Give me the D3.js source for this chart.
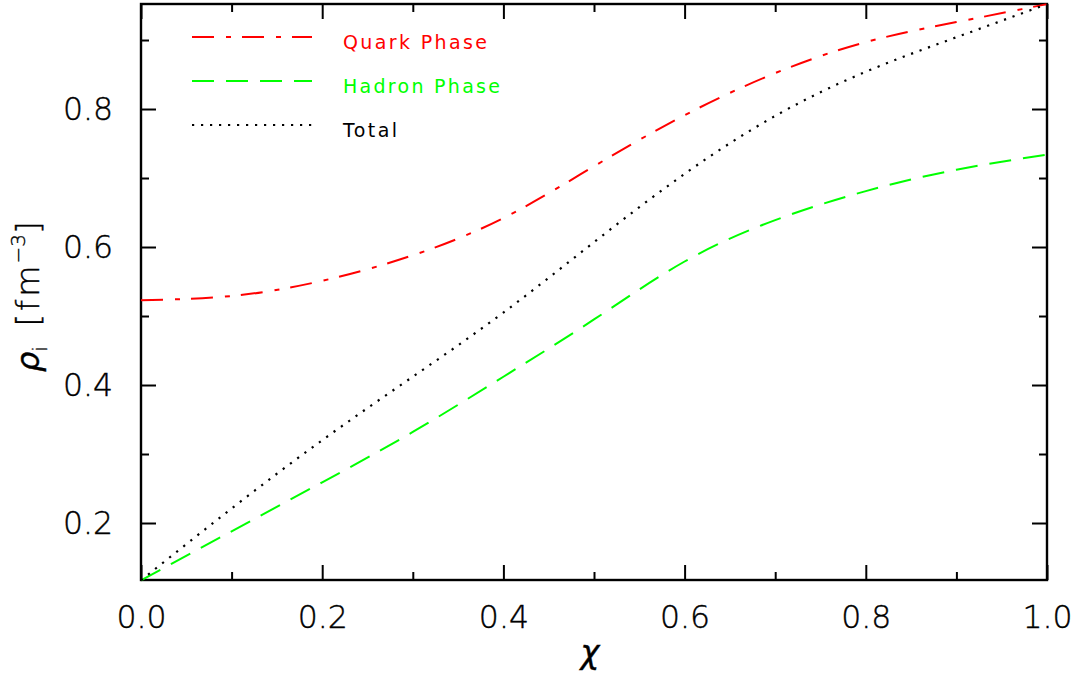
<!DOCTYPE html>
<html>
<head>
<meta charset="utf-8">
<script src="https://cdn.jsdelivr.net/npm/d3@7/dist/d3.min.js"></script>
<style>
  html, body { margin: 0; padding: 0; background: #fff; }
  svg { display: block; }
</style>
</head>
<body>
<svg id="chart" width="1072" height="678"></svg>
<script>
// ---- data ----
const chi = [0.0, 0.1, 0.2, 0.3, 0.4, 0.5, 0.6, 0.7, 0.8, 0.9, 1.0];
const quark = [0.523, 0.529, 0.551, 0.588, 0.642, 0.717, 0.791, 0.852, 0.897, 0.926, 0.952];
const hadron = [0.117, 0.188, 0.259, 0.332, 0.412, 0.495, 0.579, 0.639, 0.681, 0.712, 0.734];
const total = [0.117, 0.221, 0.320, 0.412, 0.505, 0.607, 0.706, 0.790, 0.854, 0.904, 0.952];
const seriesNames = ["Quark Phase", "Hadron Phase", "Total"];
const xMajorTicks = [0.0, 0.2, 0.4, 0.6, 0.8, 1.0];
const xMinorTicks = [0.1, 0.3, 0.5, 0.7, 0.9];
const yMajorTicks = [0.2, 0.4, 0.6, 0.8];
const yMinorTicks = [0.3, 0.5, 0.7, 0.9];
const xDomain = [0, 1];
const yDomain = [0.1174, 0.9522];

// ---- layout ----
const svg = d3.select("#chart");
const L = 141, R = 1047, T = 4, B = 580;
const FONT = "'DejaVu Sans', 'Liberation Sans', sans-serif";

const x = d3.scaleLinear().domain(xDomain).range([L, R]);
const y = d3.scaleLinear().domain(yDomain).range([B, T]);

function styleAxis(g) {
  g.attr("font-family", FONT).attr("font-size", 31.5).attr("font-weight", 200);
  g.selectAll("path.domain").remove();
  g.selectAll(".tick line").attr("stroke", "#000").attr("stroke-width", 2);
  g.selectAll(".tick text").attr("fill", "#000").attr("stroke", "#000").attr("stroke-width", 0.4);
}

// bottom
svg.append("g").attr("transform", `translate(0,${B})`)
  .call(d3.axisBottom(x).tickValues(xMajorTicks).tickSizeInner(-15).tickSizeOuter(0)
    .tickPadding(25.6).tickFormat(d3.format(".1f"))).call(styleAxis);
svg.append("g").attr("transform", `translate(0,${B})`)
  .call(d3.axisBottom(x).tickValues(xMinorTicks).tickSizeInner(-8).tickSizeOuter(0)
    .tickFormat("")).call(styleAxis);
// top
svg.append("g").attr("transform", `translate(0,${T})`)
  .call(d3.axisTop(x).tickValues(xMajorTicks).tickSizeInner(-15).tickSizeOuter(0)
    .tickFormat("")).call(styleAxis);
svg.append("g").attr("transform", `translate(0,${T})`)
  .call(d3.axisTop(x).tickValues(xMinorTicks).tickSizeInner(-8).tickSizeOuter(0)
    .tickFormat("")).call(styleAxis);
// left
svg.append("g").attr("transform", `translate(${L},0)`)
  .call(d3.axisLeft(y).tickValues(yMajorTicks).tickSizeInner(-15).tickSizeOuter(0)
    .tickPadding(28).tickFormat(d3.format(".1f"))).call(styleAxis);
svg.append("g").attr("transform", `translate(${L},0)`)
  .call(d3.axisLeft(y).tickValues(yMinorTicks).tickSizeInner(-8).tickSizeOuter(0)
    .tickFormat("")).call(styleAxis);
// right
svg.append("g").attr("transform", `translate(${R},0)`)
  .call(d3.axisRight(y).tickValues(yMajorTicks).tickSizeInner(-15).tickSizeOuter(0)
    .tickFormat("")).call(styleAxis);
svg.append("g").attr("transform", `translate(${R},0)`)
  .call(d3.axisRight(y).tickValues(yMinorTicks).tickSizeInner(-8).tickSizeOuter(0)
    .tickFormat("")).call(styleAxis);

// frame
svg.append("rect")
  .attr("x", x(xDomain[0])).attr("y", y(yDomain[1]))
  .attr("width", x(xDomain[1]) - x(xDomain[0]))
  .attr("height", y(yDomain[0]) - y(yDomain[1]))
  .attr("fill", "none").attr("stroke", "#000").attr("stroke-width", 2.4);

// curves
const series = [
  { name: seriesNames[0], values: quark, color: "#ff0000", dash: "22,12,5,11", width: 2 },
  { name: seriesNames[1], values: hadron, color: "#00ff00", dash: "22,12", width: 2 },
  { name: seriesNames[2], values: total, color: "#000000", dash: "2.2,6.8", width: 2.2 }
];

const line = d3.line()
  .x((d, i) => x(chi[i]))
  .y(d => y(d))
  .curve(d3.curveNatural);

svg.append("clipPath").attr("id", "clip")
  .append("rect").attr("x", L).attr("y", T - 2).attr("width", R - L + 2).attr("height", B - T + 4);

svg.append("g").attr("clip-path", "url(#clip)")
  .selectAll("path.series").data(series).join("path")
  .attr("class", "series")
  .attr("d", d => line(d.values))
  .attr("fill", "none")
  .attr("stroke", d => d.color)
  .attr("stroke-width", d => d.width)
  .attr("stroke-dasharray", d => d.dash);

// legend
const legend = svg.append("g");
const legTextLen = [144, 157, 54];
series.forEach((s, i) => {
  const ly = 37 + i * 44;
  legend.append("line")
    .attr("x1", 192).attr("x2", 312).attr("y1", ly).attr("y2", ly)
    .attr("stroke", s.color).attr("stroke-width", s.width)
    .attr("stroke-dasharray", s.dash);
  legend.append("text")
    .attr("x", 343).attr("y", ly + 12)
    .attr("font-family", FONT).attr("font-size", 19).attr("font-weight", 400)
    .attr("textLength", legTextLen[i]).attr("lengthAdjust", "spacing")
    .attr("fill", s.color)
    .text(s.name);
});

// x axis title
svg.append("text")
  .attr("x", 590).attr("y", 663)
  .attr("text-anchor", "middle")
  .attr("font-family", FONT).attr("font-size", 32).attr("font-style", "italic").attr("font-weight", 200)
  .attr("stroke", "#000").attr("stroke-width", 0.4)
  .text("χ");

// y axis title
const yt = svg.append("text")
  .attr("transform", "translate(39,372) rotate(-90)")
  .attr("font-family", FONT).attr("font-size", 32).attr("font-weight", 200)
  .attr("stroke", "#000").attr("stroke-width", 0.4);
yt.append("tspan").attr("font-style", "italic").text("ρ");
yt.append("tspan").attr("font-size", 19).attr("dy", 8).text("i");
yt.append("tspan").attr("dy", -8).attr("dx", 20).attr("letter-spacing", 3).text("[fm");
yt.append("tspan").attr("font-size", 20).attr("dy", -14).attr("dx", -1).text("−3");
yt.append("tspan").attr("dy", 14).text("]");
</script>
</body>
</html>
